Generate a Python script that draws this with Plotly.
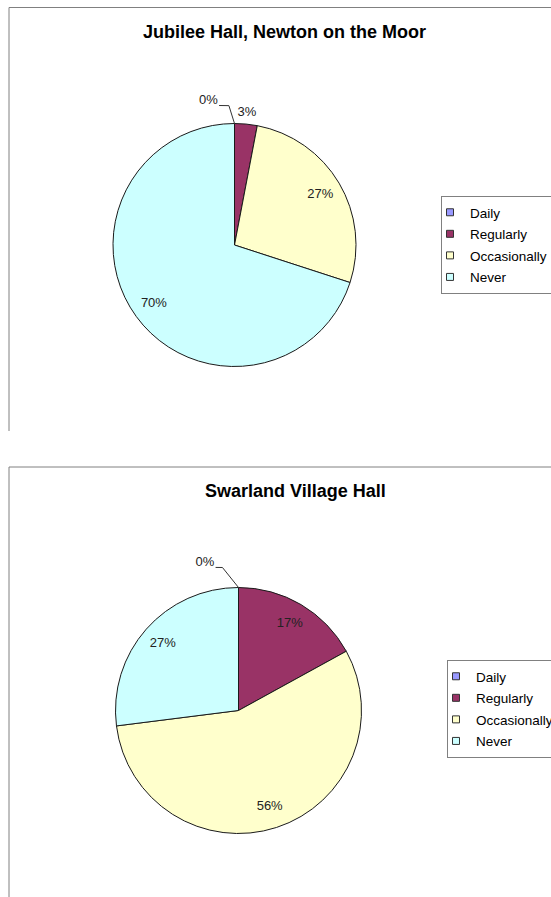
import plotly.graph_objects as go

# ---------------- data ----------------
categories = ["Daily", "Regularly", "Occasionally", "Never"]
jubilee_values = [0, 3, 27, 70]
swarland_values = [0, 17, 56, 27]
chart_titles = ["Jubilee Hall, Newton on the Moor", "Swarland Village Hall"]

# ---------------- style ----------------
slice_colors = ["#9999FF", "#993366", "#FFFFCC", "#CCFFFF"]
OUTLINE = "#1a1a1a"
FONT = "Liberation Sans, Arial, sans-serif"
W, H = 600, 897     # paper is wider than the 551px window: charts run off the right edge
RMAX = 1.3          # radial axis range, pie radius = 1
INSIDE_R = 0.82     # radius for inside labels
OUTSIDE_R = 1.09    # radius for outside labels
SMALL = 5           # slices below this percentage get outside labels

charts = [
    dict(values=jubilee_values, title=chart_titles[0], cx=234.5, cy=245, R=121.5,
         polar="polar", legend="legend", leg_x=441, leg_y=196,
         title_x=284.5, title_y=32,
         zero_leader=[(1.148, -2.3), (1.155, -6.3)], zero_label=(1.208, -10.2)),
    dict(values=swarland_values, title=chart_titles[1], cx=238.5, cy=710.5, R=123,
         polar="polar2", legend="legend2", leg_x=447, leg_y=660,
         title_x=295.5, title_y=491,
         zero_leader=[(1.17, -6.4), (1.178, -9.1)], zero_label=(1.234, -12.8)),
]

fig = go.Figure()
layout_extra = {}
annotations = []

for ci, ch in enumerate(charts):
    vals = ch["values"]
    total = float(sum(vals))
    mids, widths = [], []
    cum = 0.0
    for v in vals:
        w = v / total * 360.0
        mids.append(cum + w / 2.0)
        widths.append(w)
        cum += w

    # pie slices
    idx = [i for i, v in enumerate(vals) if v > 0]
    fig.add_trace(go.Barpolar(
        r=[1] * len(idx), theta=[mids[i] for i in idx], width=[widths[i] for i in idx],
        marker=dict(color=[slice_colors[i] for i in idx], line=dict(color=OUTLINE, width=1)),
        subplot=ch["polar"], showlegend=False, hoverinfo="skip",
    ))

    # legend entries
    for cat, col in zip(categories, slice_colors):
        fig.add_trace(go.Scatterpolar(
            r=[None], theta=[None], mode="markers", name=cat,
            marker=dict(symbol="square", size=7, color=col, line=dict(color="#333333", width=1)),
            subplot=ch["polar"], legend=ch["legend"], legendgroup=f"{ci}-{cat}",
            showlegend=True, hoverinfo="skip",
        ))

    # data labels
    lr, lt, ltxt = [], [], []
    for i, v in enumerate(vals):
        if v == 0:
            continue
        lr.append(INSIDE_R if v >= SMALL else OUTSIDE_R)
        lt.append(mids[i])
        ltxt.append(f"{v}%")
    for i, v in enumerate(vals):
        if v == 0:
            lr.append(ch["zero_label"][0])
            lt.append(mids[i] + ch["zero_label"][1])
            ltxt.append(f"{v}%")
            # leader line from slice position to label
            fig.add_trace(go.Scatterpolar(
                r=[1] + [p[0] for p in ch["zero_leader"]],
                theta=[mids[i]] + [mids[i] + p[1] for p in ch["zero_leader"]],
                mode="lines", line=dict(color="#333333", width=1),
                subplot=ch["polar"], showlegend=False, hoverinfo="skip", cliponaxis=False,
            ))
    fig.add_trace(go.Scatterpolar(
        r=lr, theta=lt, text=ltxt, mode="text", textposition="middle center",
        textfont=dict(family=FONT, size=13, color="#222222"),
        subplot=ch["polar"], showlegend=False, hoverinfo="skip", cliponaxis=False,
    ))

    cx, cy, R = ch["cx"], ch["cy"], ch["R"]
    half = RMAX * R
    layout_extra[ch["polar"]] = dict(
        domain=dict(x=[(cx - half) / W, (cx + half) / W],
                    y=[1 - (cy + half) / H, 1 - (cy - half) / H]),
        bgcolor="rgba(0,0,0,0)",
        angularaxis=dict(rotation=90, direction="clockwise", visible=False),
        radialaxis=dict(range=[0, RMAX], visible=False),
    )
    layout_extra[ch["legend"]] = dict(
        x=ch["leg_x"] / W, y=1 - ch["leg_y"] / H, xanchor="left", yanchor="top",
        bgcolor="white", bordercolor="#808080", borderwidth=1,
        font=dict(family=FONT, size=13.5, color="#000000"),
        tracegroupgap=1, indentation=-12, itemclick=False, itemdoubleclick=False,
    )
    annotations.append(dict(
        text=f"<b>{ch['title']}</b>", x=ch["title_x"] / W, y=1 - ch["title_y"] / H,
        xref="paper", yref="paper", xanchor="center", yanchor="middle", showarrow=False,
        font=dict(family=FONT, size=18, color="#000000"),
    ))

# chart-area frames
frame = dict(type="line", xref="paper", yref="paper", line=dict(color="#808080", width=1))
shapes = [
    dict(frame, x0=9 / W, x1=1, y0=1 - 7.5 / H, y1=1 - 7.5 / H),
    dict(frame, x0=9 / W, x1=9 / W, y0=1 - 7.5 / H, y1=1 - 431 / H),
    dict(frame, x0=9 / W, x1=1, y0=1 - 467 / H, y1=1 - 467 / H),
    dict(frame, x0=9 / W, x1=9 / W, y0=1 - 467 / H, y1=0),
]

fig.update_layout(
    width=W, height=H,
    margin=dict(l=0, r=0, t=0, b=0),
    paper_bgcolor="white", plot_bgcolor="white",
    annotations=annotations, shapes=shapes,
    **layout_extra,
)

fig.write_html(
    "out.html",
    config={"displayModeBar": False},
    post_script="document.body.style.margin='0px';document.body.style.overflow='hidden';",
)
